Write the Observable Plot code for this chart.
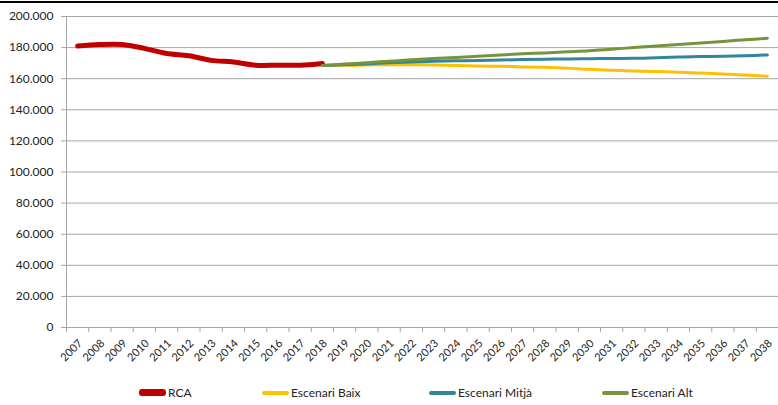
<!DOCTYPE html>
<html>
<head>
<meta charset="utf-8">
<script src="https://cdn.jsdelivr.net/npm/d3@7"></script>
<script src="https://cdn.jsdelivr.net/npm/@observablehq/plot@0.6"></script>
<style>
  html, body { margin: 0; padding: 0; background: #fff; }
  #wrap { position: relative; width: 778px; height: 405px; overflow: hidden; font-family: Lato, "Open Sans", sans-serif; }
  #topline { position: absolute; left: 0; top: 1px; width: 778px; height: 2px; background: #000; }
  #chart { position: absolute; left: 0; top: 0; }
  .leg { position: absolute; top: 385px; height: 16px; font-size: 12px; color: #222; line-height: 16px; white-space: nowrap; }
  .sw { display: inline-block; vertical-align: middle; border-radius: 3px; margin-right: 2px; position: relative; top: -1px; }
</style>
</head>
<body>
<div id="wrap">
  <div id="chart"></div>
  <div id="topline"></div>
  <div id="legend"></div>
</div>
<script>
const rcaYears = [2007, 2008, 2009, 2010, 2011, 2012, 2013, 2014, 2015, 2016, 2017, 2018];
const rcaValues = [181000, 182000, 182000, 179500, 176200, 174800, 171800, 170700, 168700, 168700, 168700, 169800];

const scenarioYears = [2018, 2019, 2020, 2021, 2022, 2023, 2024, 2025, 2026, 2027, 2028, 2029, 2030, 2031, 2032, 2033, 2034, 2035, 2036, 2037, 2038];
const baixValues  = [168500, 168600, 168800, 169000, 169000, 168800, 168500, 168200, 168000, 167600, 167300, 166800, 166000, 165500, 165000, 164600, 164200, 163600, 163000, 162400, 161600];
const mitjaValues = [168500, 169000, 169500, 170200, 170800, 171200, 171500, 171700, 172000, 172300, 172500, 172700, 172900, 173000, 173100, 173500, 173900, 174200, 174500, 174800, 175300];
const altValues   = [168500, 169400, 170300, 171200, 172200, 173000, 173700, 174500, 175300, 176000, 176600, 177300, 178000, 179000, 180000, 181000, 182000, 183000, 184000, 185000, 186000];

const allYears = [2007, 2008, 2009, 2010, 2011, 2012, 2013, 2014, 2015, 2016, 2017, 2018, 2019, 2020, 2021, 2022, 2023, 2024, 2025, 2026, 2027, 2028, 2029, 2030, 2031, 2032, 2033, 2034, 2035, 2036, 2037, 2038];
const yTicks = [0, 20000, 40000, 60000, 80000, 100000, 120000, 140000, 160000, 180000, 200000];

const seriesNames = ["RCA", "Escenari Baix", "Escenari Mitjà", "Escenari Alt"];
const seriesColors = ["#C00000", "#FFC000", "#31859C", "#77933C"];
const seriesWidths = [5, 3, 3, 3];

const rows = [];
rcaYears.forEach((y, i) => rows.push({serie: seriesNames[0], year: y, value: rcaValues[i]}));
scenarioYears.forEach((y, i) => rows.push({serie: seriesNames[1], year: y, value: baixValues[i]}));
scenarioYears.forEach((y, i) => rows.push({serie: seriesNames[2], year: y, value: mitjaValues[i]}));
scenarioYears.forEach((y, i) => rows.push({serie: seriesNames[3], year: y, value: altValues[i]}));

const xDomain = [allYears[0] - 0.5, allYears[allYears.length - 1] + 0.5];
const boundaries = allYears.map(y => y - 0.5).concat([xDomain[1]]);
const fmt = d => d3.format(",")(d).replace(/,/g, ".");

const marks = [
  Plot.ruleY(yTicks.filter(t => t > 0), {stroke: "#a6a6a6", strokeWidth: 1}),
  Plot.ruleX([xDomain[0]], {y1: 0, y2: yTicks[yTicks.length - 1], stroke: "#a6a6a6"}),
  Plot.ruleY([0], {stroke: "#a6a6a6"}),
  Plot.axisY({ticks: yTicks, tickFormat: fmt, tickSize: 5, tickPadding: 8, stroke: "#a6a6a6", fontSize: 12, label: null, color: "#222"}),
  Plot.axisX({ticks: boundaries, tickFormat: () => "", tickSize: 5, stroke: "#a6a6a6", label: null}),
  Plot.axisX({ticks: allYears, tickFormat: d => String(d), tickSize: 0, tickPadding: 14, tickRotate: -45, fontSize: 11, dx: 3, label: null, color: "#222"})
];
seriesNames.forEach((s, i) => {
  marks.push(Plot.line(rows.filter(r => r.serie === s), {
    x: "year", y: "value", stroke: seriesColors[i], strokeWidth: seriesWidths[i],
    curve: "catmull-rom", strokeLinecap: "round", strokeLinejoin: "round"
  }));
});

const chart = Plot.plot({
  width: 778,
  height: 375,
  marginTop: 16,
  marginBottom: 48,
  marginLeft: 66,
  marginRight: 0,
  style: {fontFamily: "Lato, 'Open Sans', sans-serif", background: "white", color: "#222"},
  x: {type: "linear", domain: xDomain, axis: null},
  y: {domain: [0, 200000], axis: null},
  marks
});
document.getElementById("chart").appendChild(chart);

const legendPos = [139, 262, 429, 602];
const legend = document.getElementById("legend");
seriesNames.forEach((s, i) => {
  const item = document.createElement("div");
  item.className = "leg";
  item.style.left = legendPos[i] + "px";
  const sw = document.createElement("span");
  sw.className = "sw";
  sw.style.width = "27px";
  sw.style.height = (i === 0 ? 7 : 4) + "px";
  sw.style.background = seriesColors[i];
  item.appendChild(sw);
  item.appendChild(document.createTextNode(s));
  legend.appendChild(item);
});
</script>
</body>
</html>
